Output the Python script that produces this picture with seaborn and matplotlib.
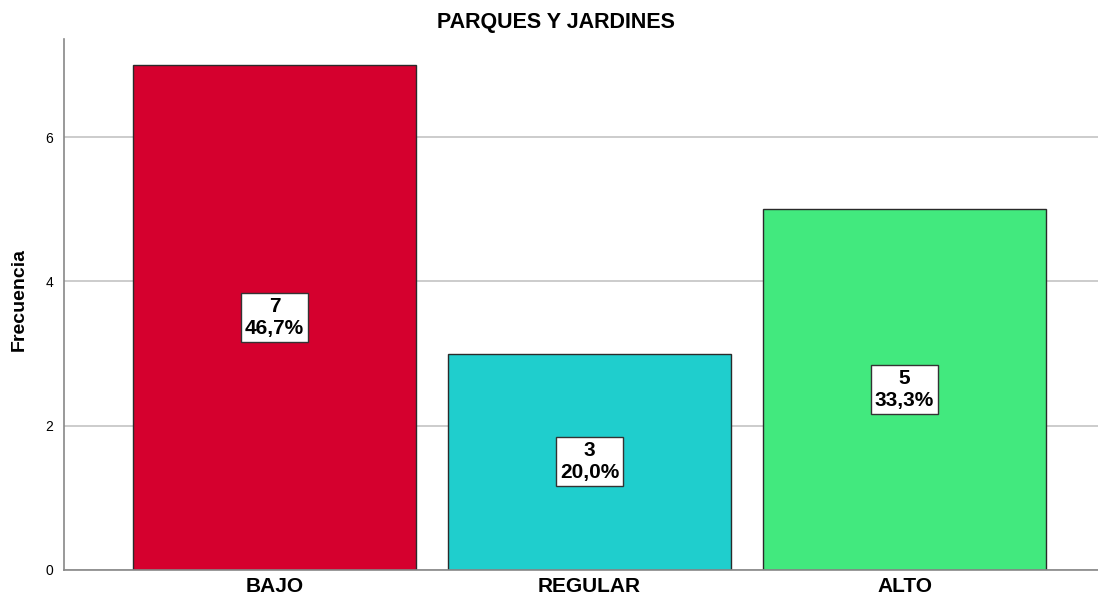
import pandas as pd
import matplotlib.pyplot as plt
import seaborn as sns

categories = ['BAJO', 'REGULAR', 'ALTO']
counts = [7, 3, 5]
percents = ['46,7%', '20,0%', '33,3%']
colors = ['#D5002E', '#1FCECD', '#42E97E']

sns.set_style('white')
plt.rcParams['font.family'] = ['Liberation Sans', 'DejaVu Sans']
plt.rcParams['text.color'] = 'black'
plt.rcParams['xtick.color'] = 'black'
plt.rcParams['ytick.color'] = 'black'
plt.rcParams['axes.labelcolor'] = 'black'

df = pd.DataFrame({'cat': categories, 'n': counts})

fig = plt.figure(figsize=(10.98, 6.02), dpi=100)
ax = fig.add_axes([0.0583, 0.0532, 0.9417, 0.8820])
ax.yaxis.grid(True, color='#C4C4C4', linewidth=1.2)
ax.set_axisbelow(True)
sns.barplot(data=df, x='cat', y='n', hue='cat', palette=colors, legend=False,
            saturation=1, width=0.9, edgecolor='#2A2A2A', linewidth=1.0,
            ax=ax, zorder=2)

ax.set_ylim(0, 7.36)
ax.set_xlim(-0.668, 2.614)
ax.set_yticks([0, 2, 4, 6])
ax.tick_params(axis='y', labelsize=10, length=0, pad=8)
ax.tick_params(axis='x', labelsize=15, length=0, pad=5)
for t in ax.get_xticklabels():
    t.set_fontweight('bold')
ax.set_xlabel('')
ax.set_ylabel('Frecuencia', fontsize=14, fontweight='bold')
ax.yaxis.set_label_coords(-0.035, 0.51)
ax.set_title('PARQUES Y JARDINES', fontsize=15.5, fontweight='bold',
             x=0.476, pad=8)

for s in ['top', 'right']:
    ax.spines[s].set_visible(False)
for s in ['left', 'bottom']:
    ax.spines[s].set_color('#888888')
    ax.spines[s].set_linewidth(1.2)

for i, (n, p) in enumerate(zip(counts, percents)):
    ax.text(i, n / 2, f'{n}\n{p}', ha='center', va='center', fontsize=15,
            fontweight='bold', linespacing=1.2, zorder=5,
            bbox=dict(boxstyle='square,pad=0.2', facecolor='white',
                      edgecolor='#333333', linewidth=1.0))

fig.savefig('out.png', dpi=100)
